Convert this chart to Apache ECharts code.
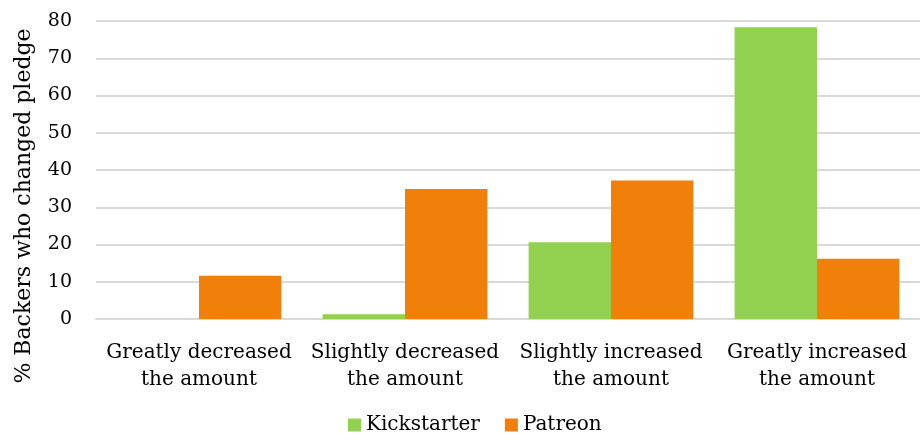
<!DOCTYPE html>
<html><head><meta charset="utf-8">
<script src="https://cdn.jsdelivr.net/npm/echarts@6/dist/echarts.min.js"></script>
<style>html,body{margin:0;padding:0;background:#fff}#c{width:920px;height:441px}</style>
</head><body><div id="c"></div>
<script>
var categories = ["Greatly decreased\nthe amount", "Slightly decreased\nthe amount", "Slightly increased\nthe amount", "Greatly increased\nthe amount"];
var kickstarter = [0, 1.3, 20.6, 78.3];
var patreon = [11.6, 34.9, 37.2, 16.2];
var seriesNames = ["Kickstarter", "Patreon"];
var yTitle = "% Backers who changed pledge";
var FONT = "DejaVu Serif";
var chart = echarts.init(document.getElementById('c'));
chart.setOption({
  animation: false,
  grid: {left: 96, top: 21, width: 832, height: 298, containLabel: false},
  graphic: [{
    type: 'text', x: 24, y: 206, rotation: Math.PI / 2,
    style: {text: yTitle, fontFamily: FONT, fontSize: 22, fill: '#000', align: 'center', verticalAlign: 'middle'}
  }],
  legend: {
    data: seriesNames, bottom: 1, left: 343, itemWidth: 13, itemHeight: 13, itemGap: 25,
    icon: 'rect', textStyle: {fontFamily: FONT, fontSize: 20, color: '#000'}
  },
  xAxis: {
    type: 'category', data: categories,
    axisLine: {show: true, lineStyle: {color: '#D9D9D9', width: 2}},
    axisTick: {show: false},
    axisLabel: {fontFamily: FONT, fontSize: 20, color: '#000', lineHeight: 27, margin: 20, interval: 0}
  },
  yAxis: {
    type: 'value', min: 0, max: 80, interval: 10,
    axisLine: {show: false}, axisTick: {show: false},
    axisLabel: {fontFamily: FONT, fontSize: 19, color: '#000', margin: 24},
    splitLine: {lineStyle: {color: '#D9D9D9', width: 2}}
  },
  series: [
    {name: seriesNames[0], type: 'bar', data: kickstarter, barGap: '0%', barCategoryGap: '20%', itemStyle: {color: '#92D050'}},
    {name: seriesNames[1], type: 'bar', data: patreon, barGap: '0%', barCategoryGap: '20%', itemStyle: {color: '#F0800A'}}
  ]
});
</script></body></html>
